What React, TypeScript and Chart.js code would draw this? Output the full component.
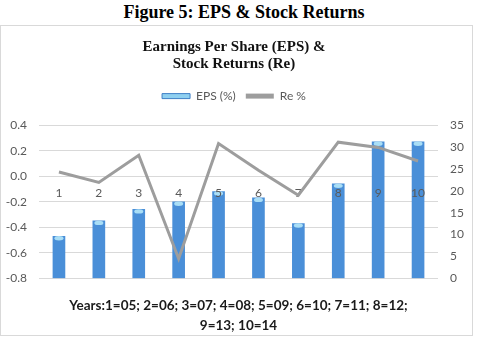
import React, { useEffect, useRef } from 'react';
import { Chart, registerables } from 'chart.js';

Chart.register(...registerables);

const figureTitle = 'Figure 5: EPS & Stock Returns';
const chartTitle = ['Earnings Per Share (EPS) &', 'Stock Returns (Re)'];
const xAxisTitle = ['Years:1=05; 2=06; 3=07; 4=08; 5=09; 6=10; 7=11; 8=12;', '9=13; 10=14'];

const categories = ['1', '2', '3', '4', '5', '6', '7', '8', '9', '10'];
const epsLabel = 'EPS (%)';
const epsValues = [-0.47, -0.35, -0.26, -0.2, -0.12, -0.17, -0.37, -0.06, 0.27, 0.27];
const reLabel = 'Re %';
const reValues = [24.3, 21.9, 28.1, 4.5, 30.8, 24.7, 19.0, 31.1, 29.9, 26.8];

const leftMin = -0.8;
const leftMax = 0.4;
const leftStep = 0.2;
const rightMin = 0;
const rightMax = 35;
const rightStep = 5;

const SANS = 'Lato';
const GRAY_TEXT = '#595959';

const barCapsAndLabels = {
  id: 'barCapsAndLabels',
  afterDatasetDraw(chart: any, args: any) {
    if (args.index !== 0) return;
    const { ctx } = chart;
    const meta = chart.getDatasetMeta(0);
    ctx.save();
    meta.data.forEach((el: any) => {
      const w = el.width;
      ctx.beginPath();
      ctx.ellipse(el.x, el.y + 2, w / 2 - 1.5, 2.2, 0, 0, Math.PI * 2);
      ctx.fillStyle = '#a9def6';
      ctx.fill();
    });
    const xs = chart.scales.x;
    const ys = chart.scales.y;
    const y0 = ys.getPixelForValue(0);
    ctx.font = `12px ${SANS}`;
    ctx.fillStyle = GRAY_TEXT;
    ctx.textAlign = 'center';
    ctx.textBaseline = 'middle';
    categories.forEach((c, i) => {
      ctx.fillText(c, xs.getPixelForValue(i), y0 + 17);
    });
    ctx.restore();
  },
};

const legendGap = {
  id: 'legendGap',
  beforeInit(chart: any) {
    const legend = chart.legend;
    if (!legend) return;
    const origFit = legend.fit;
    legend.fit = function () {
      origFit.call(this);
      this.height += 13;
    };
  },
};

function ChartCanvas() {
  const ref = useRef<HTMLCanvasElement | null>(null);
  useEffect(() => {
    if (!ref.current) return;
    const chart = new Chart(ref.current, {
      type: 'bar',
      data: {
        labels: categories,
        datasets: [
          {
            type: 'bar',
            label: epsLabel,
            data: epsValues,
            base: leftMin,
            yAxisID: 'y',
            backgroundColor: (c: any) => {
              const el = c.element;
              const chartCtx = c.chart.ctx;
              if (!el || !isFinite(el.x) || !el.width) return '#4a8fd8';
              const g = chartCtx.createLinearGradient(el.x - el.width / 2, 0, el.x + el.width / 2, 0);
              g.addColorStop(0, '#3a76bd');
              g.addColorStop(0.45, '#5a9fe2');
              g.addColorStop(1, '#3a76bd');
              return g;
            },
            borderWidth: 0,
            barThickness: 12,
            order: 1,
          } as any,
          {
            type: 'line',
            label: reLabel,
            data: reValues,
            yAxisID: 'y1',
            borderColor: '#9d9d9d',
            backgroundColor: '#9d9d9d',
            borderWidth: 3,
            pointRadius: 0,
            tension: 0,
            order: 0,
          } as any,
        ],
      },
      options: {
        responsive: false,
        animation: false,
        layout: { padding: { left: 0, right: 5, top: 0, bottom: 0 } },
        plugins: {
          tooltip: { enabled: false },
          title: {
            display: true,
            text: chartTitle,
            color: '#111111',
            font: { family: 'Liberation Serif', size: 15, weight: 'bold', lineHeight: 1.17 },
            padding: { top: 12, bottom: 7 },
          },
          legend: {
            display: true,
            position: 'top',
            labels: {
              color: GRAY_TEXT,
              font: { family: SANS, size: 12 },
              boxWidth: 28,
              boxHeight: 5,
              padding: 10,
              sort: (a: any, b: any) => a.datasetIndex - b.datasetIndex,
              generateLabels: (chart: any) => {
                const items = Chart.defaults.plugins.legend.labels.generateLabels(chart);
                items.forEach((it: any) => {
                  if (it.datasetIndex === 0) {
                    it.fillStyle = '#8fd0f0';
                    it.strokeStyle = '#3f7fc6';
                    it.lineWidth = 1;
                  } else {
                    it.fillStyle = '#9d9d9d';
                    it.strokeStyle = '#9d9d9d';
                    it.lineWidth = 0;
                  }
                });
                return items;
              },
            },
          },
        },
        scales: {
          x: {
            grid: { display: false, drawTicks: false },
            border: { display: false },
            ticks: { display: false },
            title: {
              display: true,
              text: xAxisTitle,
              color: '#1a1a1a',
              font: { family: SANS, size: 13.5, weight: 'bold', lineHeight: 1.43 },
              padding: { top: 18, bottom: 0 },
            },
          },
          y: {
            position: 'left',
            min: leftMin,
            max: leftMax,
            afterFit: (s: any) => {
              s.width = 38;
            },
            ticks: {
              stepSize: leftStep,
              color: GRAY_TEXT,
              font: { family: SANS, size: 12 },
              padding: 12,
            },
            grid: { color: '#d9d9d9', drawTicks: false },
            border: { display: false },
          },
          y1: {
            position: 'right',
            min: rightMin,
            max: rightMax,
            afterFit: (s: any) => {
              s.width = 29;
            },
            ticks: {
              stepSize: rightStep,
              color: GRAY_TEXT,
              font: { family: SANS, size: 12 },
              padding: 12,
            },
            grid: { display: false, drawTicks: false },
            border: { display: false },
          },
        },
      } as any,
      plugins: [legendGap, barCapsAndLabels],
    });
    return () => chart.destroy();
  }, []);
  return <canvas ref={ref} width={471} height={309} style={{ display: 'block', width: 471, height: 309 }} />;
}

export default function App() {
  return (
    <div style={{ position: 'fixed', left: 0, top: 0, width: 477, height: 348, background: '#ffffff', overflow: 'hidden' }}>
      <div
        style={{
          position: 'absolute',
          left: 10,
          top: 0,
          width: 468,
          height: 24,
          lineHeight: '24px',
          textAlign: 'center',
          fontFamily: 'Liberation Serif',
          fontWeight: 'bold',
          fontSize: 18,
          color: '#000',
        }}
      >
        {figureTitle}
      </div>
      <div
        style={{
          position: 'absolute',
          left: 0,
          top: 25,
          width: 473,
          height: 311,
          boxSizing: 'border-box',
          border: '1px solid #d9d9d9',
        }}
      >
        <ChartCanvas />
      </div>
    </div>
  );
}
